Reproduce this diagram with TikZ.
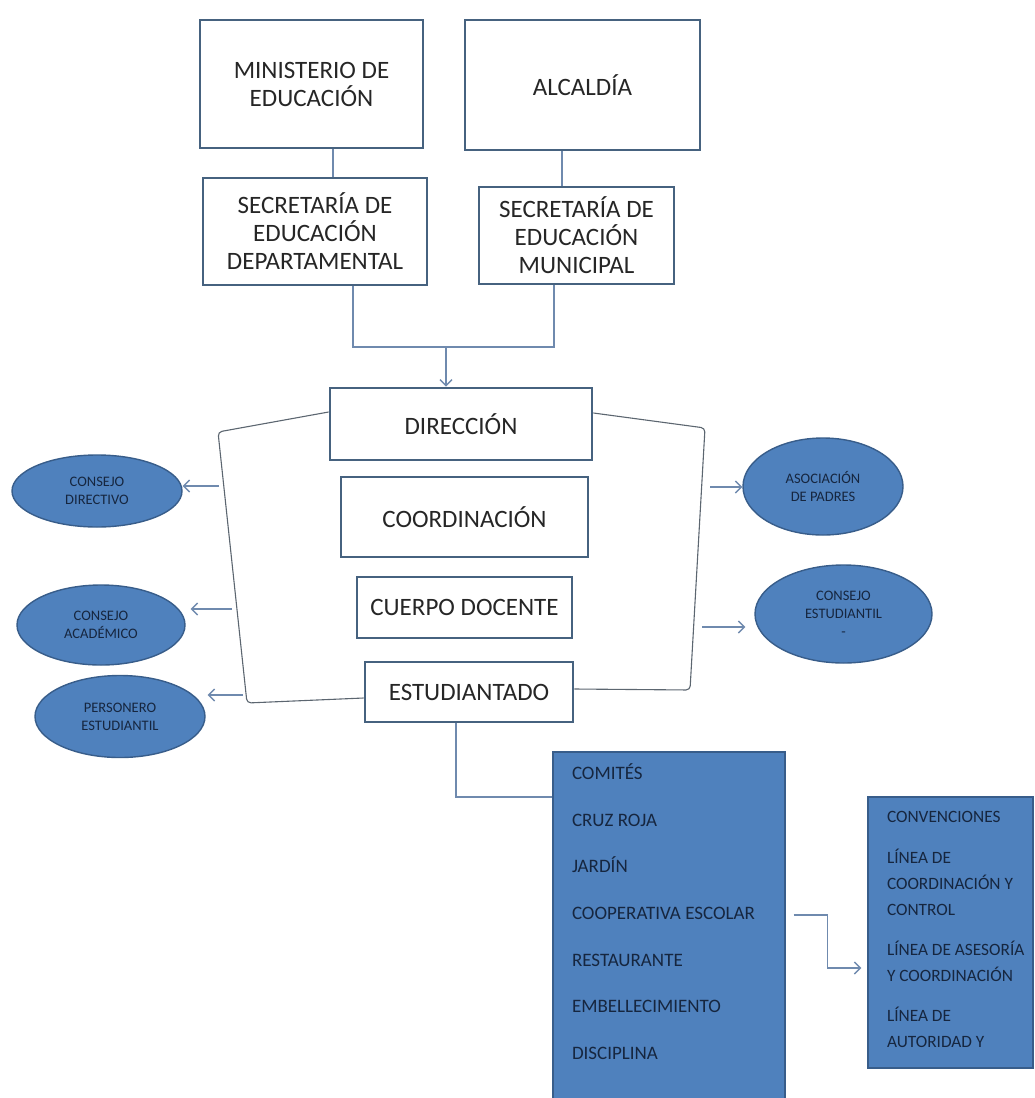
\documentclass[tikz,border=0pt]{standalone}
\usepackage{fontspec}
\setmainfont{Carlito}
\usetikzlibrary{arrows.meta,shapes.geometric}
\definecolor{boxline}{HTML}{46627F}
\definecolor{cfill}{HTML}{4F81BD}
\definecolor{cline}{HTML}{385D8A}
\definecolor{linkc}{HTML}{6F8AAE}
\definecolor{brkc}{HTML}{5C6670}
\definecolor{ink}{HTML}{262626}
\definecolor{navy}{HTML}{16263F}
\begin{document}
\begin{tikzpicture}[x=1pt,y=-1pt,
  wbox/.style={draw=boxline,line width=2.8pt,fill=white,align=center,text=ink,inner sep=0pt,
    font=\fontsize{25}{28}\selectfont},
  oval/.style={ellipse,draw=cline,line width=1.4pt,fill=cfill,align=center,text=navy,inner sep=0pt,
    font=\fontsize{14.5}{18}\selectfont},
  bbox/.style={draw=cline,line width=1.4pt,fill=cfill,text=navy,inner ysep=0pt},
  link/.style={draw=linkc,line width=1.4pt},
  brk/.style={draw=brkc,line width=1.1pt,rounded corners=4pt},
  arr/.style={-{Straight Barb[length=6pt,width=12pt]}}]
\useasboundingbox (0,0) rectangle (1035,1098);

\node[wbox,minimum width=223pt,minimum height=128pt] (mined) at (311.5,84) {MINISTERIO DE\\EDUCACIÓN};
\node[wbox,minimum width=235pt,minimum height=130pt] (alcaldia) at (582.5,85) {ALCALDÍA};
\node[wbox,minimum width=224pt,minimum height=107pt] (secdep) at (315,231.5) {SECRETARÍA DE\\EDUCACIÓN\\DEPARTAMENTAL};
\node[wbox,minimum width=195pt,minimum height=97pt] (secmun) at (576.5,235.5) {SECRETARÍA DE\\EDUCACIÓN\\MUNICIPAL};

\node[wbox,minimum width=262pt,minimum height=72pt] (direccion) at (461,424) {DIRECCIÓN};
\node[wbox,minimum width=247pt,minimum height=80pt] (coord) at (464.5,517) {COORDINACIÓN};
\node[wbox,minimum width=215pt,minimum height=61pt] (docente) at (464.5,607.5) {CUERPO DOCENTE};
\node[wbox,minimum width=208pt,minimum height=60pt] (estud) at (469,692) {ESTUDIANTADO};

\node[oval,minimum width=170pt,minimum height=72pt] (cdir) at (97,491) {CONSEJO\\DIRECTIVO};
\node[oval,minimum width=168pt,minimum height=80pt] (cacad) at (101,625) {CONSEJO\\ACADÉMICO};
\node[oval,minimum width=170pt,minimum height=82pt] (pers) at (120,716.5) {PERSONERO\\ESTUDIANTIL};
\node[oval,minimum width=160pt,minimum height=97pt] (apadres) at (823,486.5) {ASOCIACIÓN\\DE PADRES};
\node[oval,minimum width=177pt,minimum height=98pt] (cest) at (843.5,614) {CONSEJO\\ESTUDIANTIL\\-};

\node[bbox,inner xsep=19pt] (comites) at (669,926) {\parbox[c][348pt][t]{194pt}{\fontsize{19}{46.7}\selectfont
  \vspace*{11.5pt}COMITÉS\\CRUZ ROJA\\JARDÍN\\COOPERATIVA ESCOLAR\\RESTAURANTE\\EMBELLECIMIENTO\\DISCIPLINA}};
\node[bbox,inner xsep=7.5pt] (conv) at (950.5,932.5) {\parbox[c][271pt][t]{150pt}{\fontsize{17.3}{26}\selectfont
  \raggedright\leftskip=11.5pt\vspace*{14.5pt}CONVENCIONES\\[15pt]LÍNEA DE\\COORDINACIÓN Y\\CONTROL\\[14pt]LÍNEA DE ASESORÍA\\Y COORDINACIÓN\\[14pt]LÍNEA DE\\AUTORIDAD Y}};

\draw[link] ([xshift=21.5pt]mined.south) -- ([xshift=21.5pt]mined.south |- secdep.north);
\draw[link] ([xshift=-20.5pt]alcaldia.south) -- ([xshift=-20.5pt]alcaldia.south |- secmun.north);
\coordinate (jn) at (446,347);
\draw[link] ([xshift=38pt]secdep.south) |- (jn) -| ([xshift=-22.5pt]secmun.south);
\draw[link,arr] (jn) -- (jn |- direccion.north);

\draw[brk] ([yshift=12pt]direccion.west) -- (218,432) -- (247,703) -- ([yshift=-6pt]estud.west);
\draw[brk] ([yshift=11pt]direccion.east) -- (705,428) -- (690,690) -- ([yshift=3pt]estud.east);

\coordinate (l1) at (219,486);
\coordinate (l2) at (232,609);
\coordinate (l3) at (243,695);
\coordinate (r1) at (710,487);
\coordinate (r2) at (702,627);
\draw[link,arr] (l1) -- (l1 -| cdir.east);
\draw[link,arr,shorten >=5pt] (l2) -- (l2 -| cacad.east);
\draw[link,arr,shorten >=2pt] (l3) -- (l3 -| pers.east);
\draw[link,arr] (r1) -- (r1 -| apadres.west);
\draw[link,arr,shorten >=9pt] (r2) -- (r2 -| cest.west);

\draw[link] ([xshift=-13pt]estud.south) |- ([yshift=129pt]comites.west);
\draw[link,arr,shorten >=6pt] ([xshift=8pt,yshift=11pt]comites.east) -- ++(34,0) |- ([yshift=-35.5pt]conv.west);
\end{tikzpicture}
\end{document}
